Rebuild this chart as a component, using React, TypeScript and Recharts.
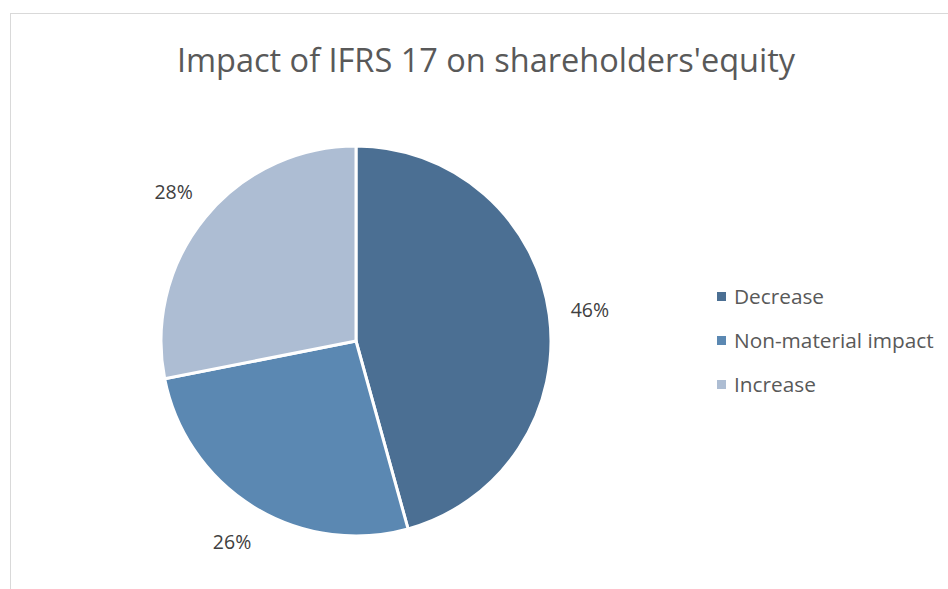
import React from 'react';
import { PieChart, Pie, Cell, Legend } from 'recharts';

const categories = ['Decrease', 'Non-material impact', 'Increase'];
const shares = [45.7, 26.2, 28.1];
const colors = ['#4b6f93', '#5b88b2', '#adbdd3'];
const title = "Impact of IFRS 17 on shareholders'equity";

const data = categories.map((name, i) => ({ name, value: shares[i] }));

const RAD = Math.PI / 180;

function renderLabel(props: any) {
  const { cx, cy, midAngle, outerRadius, value } = props;
  const r = outerRadius + 41;
  const x = cx + r * Math.cos(-midAngle * RAD);
  const y = cy + r * Math.sin(-midAngle * RAD);
  return (
    <text x={x} y={y} textAnchor="middle" dominantBaseline="central" fill="#404040"
      style={{ fontSize: 19.5, fontFamily: '"Open Sans", sans-serif' }}>
      {`${Math.round(value)}%`}
    </text>
  );
}

function LegendBox({ payload }: any) {
  const items = [...(payload || [])].sort(
    (a: any, b: any) => categories.indexOf(a.value) - categories.indexOf(b.value),
  );
  return (
    <div style={{ fontFamily: '"Open Sans", sans-serif', fontSize: 20.8, color: '#595959' }}>
      {items.map((p: any) => (
        <div key={p.value} style={{ display: 'flex', alignItems: 'center', height: 44 }}>
          <span style={{ width: 9, height: 9, background: p.color, marginRight: 8, display: 'inline-block' }} />
          <span>{p.value}</span>
        </div>
      ))}
    </div>
  );
}

export default function App() {
  return (
    <div style={{ position: 'absolute', left: 0, top: 0, width: 948, height: 589, overflow: 'hidden', background: '#fff' }}>
      <div style={{ position: 'absolute', left: 10, top: 13, width: 1000, height: 700, border: '1px solid #d9d9d9' }} />
      <div style={{
        position: 'absolute', left: 0, width: 972, top: 37, textAlign: 'center',
        fontFamily: '"Open Sans", sans-serif', fontSize: 32.5, color: '#595959',
      }}>{title}</div>
      <div style={{ position: 'absolute', left: 0, top: 0 }}>
        <PieChart width={948} height={589} margin={{ top: 0, right: 0, bottom: 0, left: 0 }}>
          <Pie
            data={data}
            dataKey="value"
            nameKey="name"
            cx={356}
            cy={341}
            outerRadius={195}
            startAngle={90}
            endAngle={-270}
            stroke="#ffffff"
            strokeWidth={3}
            label={renderLabel}
            labelLine={false}
            isAnimationActive={false}
          >
            {data.map((d, i) => <Cell key={d.name} fill={colors[i]} />)}
          </Pie>
          <Legend
            layout="vertical"
            content={<LegendBox />}
            wrapperStyle={{ left: 717, top: 274, width: 231 }}
          />
        </PieChart>
      </div>
    </div>
  );
}
